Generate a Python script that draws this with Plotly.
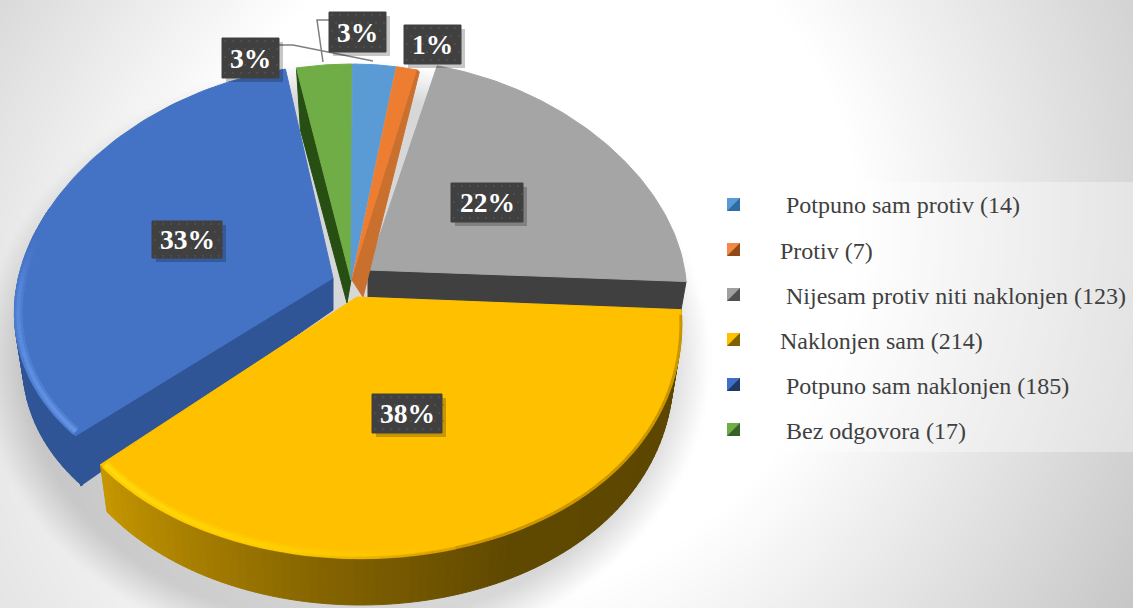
import numpy as np
import plotly.graph_objects as go

# ---------- data ----------
categories = ["\u00a0Potpuno sam protiv", "Protiv", "\u00a0Nijesam protiv niti naklonjen",
              "Naklonjen sam", "\u00a0Potpuno sam naklonjen", "\u00a0Bez odgovora"]
values = [14, 7, 123, 214, 185, 17]

# ---------- styling ----------
W, H = 1133, 608
top_colors = ["#5B9BD5", "#ED7D31", "#A5A5A5", "#FFC000", "#4472C4", "#70AD47"]
cut_colors = [None, "#C9702F", "#404040", None, "#2F5597", "#274E13"]
dark_colors = ["#2E6DA4", "#8F4A17", "#4F4F4F", "#7F6000", "#203864", "#37602A"]
light_colors = ["#5B9BD5", "#F08A45", "#A0A0A0", "#FFC000", "#3F6FC8", "#70AD47"]
# exploded-slice geometry: ellipse centre, radii, apex
geom = [
    dict(cx=352, cy=280, rx=310, ry=216, ax=351, ay=280),
    dict(cx=352, cy=280, rx=310, ry=216, ax=352, ay=280),
    dict(cx=371, cy=272, rx=314, ry=212, ax=368, ay=270),
    dict(cx=361, cy=298, rx=319, ry=260, ax=357, ay=297),
    dict(cx=341, cy=291, rx=325, ry=226, ax=333, ay=278),
    dict(cx=352, cy=280, rx=325, ry=216, ax=351, ay=280),
]
persp = 0.1
floor_scale = 0.975
depth_yellow, depth_blue = 47, 50
label_boxes = [(357.5, 32, 57, 40), (432.5, 44.5, 57, 39), (487, 202.5, 72, 39),
               (407, 413.5, 70, 39), (187, 239.5, 70, 37), (250.5, 58, 57, 40)]

total = sum(values)
edges = np.concatenate([[0], np.cumsum(values)]) / total * 2 * np.pi
pct = [f"{int(v / total * 100 + 0.5)}%" for v in values]


def rim(i, t, scale=1.0):
    g = geom[i]
    t = np.asarray(t, dtype=float)
    f = 1 - persp * np.cos(t)
    return g["cx"] + scale * g["rx"] * np.sin(t) * f, g["cy"] - scale * g["ry"] * np.cos(t)


def poly(fig, x, y, color, line=None, lw=1):
    fig.add_trace(go.Scatter(x=list(x) + [x[0]], y=list(y) + [y[0]], mode="lines", fill="toself",
                             fillcolor=color, line=dict(color=line or color, width=lw),
                             hoverinfo="skip", showlegend=False))


def lerp(stops, u):
    for (u0, c0), (u1, c1) in zip(stops, stops[1:]):
        if u <= u1:
            k = (u - u0) / (u1 - u0)
            rgb = [int(c0[j] + (c1[j] - c0[j]) * k) for j in range(3)]
            return f"rgb({rgb[0]},{rgb[1]},{rgb[2]})"
    return f"rgb{stops[-1][1]}"


def top(fig, i):
    t = np.linspace(edges[i], edges[i + 1], 90)
    x, y = rim(i, t)
    g = geom[i]
    poly(fig, np.r_[g["ax"], x], np.r_[g["ay"], y], top_colors[i])


def side(fig, i, t0, t1, depth, stops, n=70):
    g = geom[i]
    ts = np.linspace(t0, t1, n + 1)
    for a, b in zip(ts[:-1], ts[1:]):
        t = np.linspace(a, b, 4)
        x, y = rim(i, t)
        xb = g["cx"] + floor_scale * (x - g["cx"])
        c = lerp(stops, (a - t0) / (t1 - t0))
        poly(fig, np.r_[x, xb[::-1]], np.r_[y, y[::-1] + depth], c)


def glow(fig, i, t0, t1, stops, width, n=50, inset=1.0, opacity=1.0):
    ts = np.linspace(t0, t1, n + 1)
    for a, b in zip(ts[:-1], ts[1:]):
        x, y = rim(i, np.linspace(a, b, 4), inset)
        fig.add_trace(go.Scatter(x=x, y=y, mode="lines", opacity=opacity,
                                 line=dict(color=lerp(stops, (a - t0) / (t1 - t0)), width=width),
                                 hoverinfo="skip", showlegend=False))


fig = go.Figure()

# background: soft radial gradient with the pie's drop shadow
gx = np.linspace(0, W, 190)
gy = np.linspace(0, H, 102)
X, Y = np.meshgrid(gx, gy)
d = np.sqrt((X - 540) ** 2 + (Y - 200) ** 2)
bg = 255 - 0.136 * np.clip(d - 300, 0, None) + 25 * (1 - X / W) * (Y / H)
bg = np.minimum(bg, 255)
r = np.sqrt(((X - 345) / 365) ** 2 + ((Y - 360) / 300) ** 2)
bg = bg - 40 * np.clip((1 - r) / 0.12, 0, 1)
fig.add_trace(go.Heatmap(x=gx, y=gy, z=bg, zmin=0, zmax=255, zsmooth="best", showscale=False,
                         colorscale=[[0, "rgb(0,0,0)"], [1, "rgb(255,255,255)"]], hoverinfo="skip"))

# legend panel
poly(fig, [717, 1133, 1133, 717], [182, 182, 452, 452], "rgba(255,255,255,0.35)", line="rgba(0,0,0,0)", lw=0)

# blue slice (Potpuno sam naklonjen)
i = 4
side(fig, i, edges[4], 1.62 * np.pi, depth_blue, [(0, (47, 85, 151)), (1, (47, 85, 151))], n=40)
ex, ey = rim(i, edges[4])
poly(fig, [geom[i]["ax"], ex, ex + 5, geom[i]["ax"]], [geom[i]["ay"], ey, ey + depth_blue, geom[i]["ay"] + 32], cut_colors[i])
top(fig, i)
blue_hi = [(0, (120, 170, 250)), (0.7, (100, 150, 235)), (1, (68, 114, 196))]
glow(fig, i, edges[4] + 0.015, 1.58 * np.pi, blue_hi, 9, inset=0.988, opacity=0.3)
glow(fig, i, edges[4] + 0.015, 1.58 * np.pi, blue_hi, 4, inset=0.988, opacity=0.45)

# gray slice
i = 2
ex, ey = rim(i, edges[3])
g = geom[i]
poly(fig, [g["ax"], ex, ex - 5, g["ax"]], [g["ay"], ey, ey + 28, g["ay"] + 27], cut_colors[i])
top(fig, i)

# green slice
i = 5
g = geom[i]
ex, ey = rim(i, edges[5])
poly(fig, [g["ax"], ex, ex + 4, g["ax"] - 4], [g["ay"], ey, ey + 62, g["ay"] + 23], cut_colors[i])
top(fig, i)

# light-blue slice
top(fig, 0)

# orange slice
i = 1
g = geom[i]
ex, ey = rim(i, edges[2])
top(fig, i)
poly(fig, [g["ax"], ex, ex + 2, g["ax"] + 11], [g["ay"], ey, ey + 2, g["ay"] + 17], cut_colors[i])

# yellow slice
i = 3
side(fig, i, edges[3], edges[4], depth_yellow,
     [(0, (92, 70, 0)), (0.45, (96, 73, 0)), (0.68, (134, 101, 0)), (1, (200, 152, 0))], n=90)
top(fig, i)
glow(fig, i, edges[3] + 0.02, edges[4] - 0.01,
     [(0, (200, 150, 0)), (0.55, (205, 150, 0)), (0.72, (255, 200, 0)), (1, (255, 192, 0))], 3, n=70, inset=0.998)
yellow_hi = [(0, (255, 192, 0)), (0.45, (255, 215, 0)), (1, (255, 235, 20))]
glow(fig, i, edges[3] + 1.25, edges[4] - 0.01, yellow_hi, 9, inset=0.988, opacity=0.3)
glow(fig, i, edges[3] + 1.25, edges[4] - 0.01, yellow_hi, 4, inset=0.988, opacity=0.5)

# leader lines
for lx, ly in [((279, 293, 373), (45, 45, 61)), ((329, 317, 323), (20, 20, 62))]:
    fig.add_trace(go.Scatter(x=lx, y=ly, mode="lines", line=dict(color="#7F7F7F", width=1.5),
                             hoverinfo="skip", showlegend=False))

# data-label boxes
dx, dy = [], []
for (cx, cy, bw, bh) in label_boxes:
    poly(fig, [cx - bw / 2 + 4, cx + bw / 2 + 4, cx + bw / 2 + 4, cx - bw / 2 + 4],
         [cy - bh / 2 + 4, cy - bh / 2 + 4, cy + bh / 2 + 4, cy + bh / 2 + 4], "rgba(0,0,0,0.22)", line="rgba(0,0,0,0)", lw=0)
    poly(fig, [cx - bw / 2, cx + bw / 2, cx + bw / 2, cx - bw / 2],
         [cy - bh / 2, cy - bh / 2, cy + bh / 2, cy + bh / 2], "#404040")
    for px in np.arange(cx - bw / 2 + 3, cx + bw / 2, 8):
        for k, py in enumerate(np.arange(cy - bh / 2 + 3, cy + bh / 2, 8)):
            dx.append(px + (4 if k % 2 else 0))
            dy.append(py)
fig.add_trace(go.Scatter(x=dx, y=dy, mode="markers", marker=dict(color="#5E5E5E", size=1.6),
                         hoverinfo="skip", showlegend=False))

annotations = [dict(x=b[0], y=b[1], xref="x", yref="y", text=f"<b>{p}</b>", showarrow=False,
                    font=dict(family="Liberation Serif", size=27.5, color="white"))
               for b, p in zip(label_boxes, pct)]

# legend swatches (bevelled), legend supplies the text
for n, (lc, dc) in enumerate(zip(light_colors, dark_colors)):
    cy = 204.5 + 45 * n
    x0, x1, y0, y1 = 727, 740, cy - 6.5, cy + 6.5
    poly(fig, [x0, x1, x1, x0], [y0, y0, y1, y1], lc, lw=0)
    poly(fig, [x1, x1, x0], [y0, y1, y1], dc, lw=0)

# legend entries
for n, (cat, v) in enumerate(zip(categories, values)):
    fig.add_trace(go.Scatter(x=[None], y=[None], mode="markers", name=f"{cat} ({v})", legendgroup=str(n),
                             marker=dict(symbol="square", size=13, color="rgba(0,0,0,0)")))

fig.update_layout(
    width=W, height=H, margin=dict(l=0, r=0, t=0, b=0), paper_bgcolor="white", plot_bgcolor="white",
    xaxis=dict(range=[0, W], visible=False, fixedrange=True),
    yaxis=dict(range=[H, 0], visible=False, fixedrange=True),
    showlegend=True, annotations=annotations,
    legend=dict(x=690 / W, y=1 - 182 / H, xanchor="left", yanchor="top", bgcolor="rgba(0,0,0,0)",
                font=dict(family="Liberation Serif", size=24, color="#404040"),
                itemwidth=80, tracegroupgap=11, traceorder="grouped", itemclick=False, itemdoubleclick=False),
)
fig.write_html("out.html", config=dict(displayModeBar=False),
               post_script="document.body.style.margin='0';document.body.style.overflow='hidden';")
